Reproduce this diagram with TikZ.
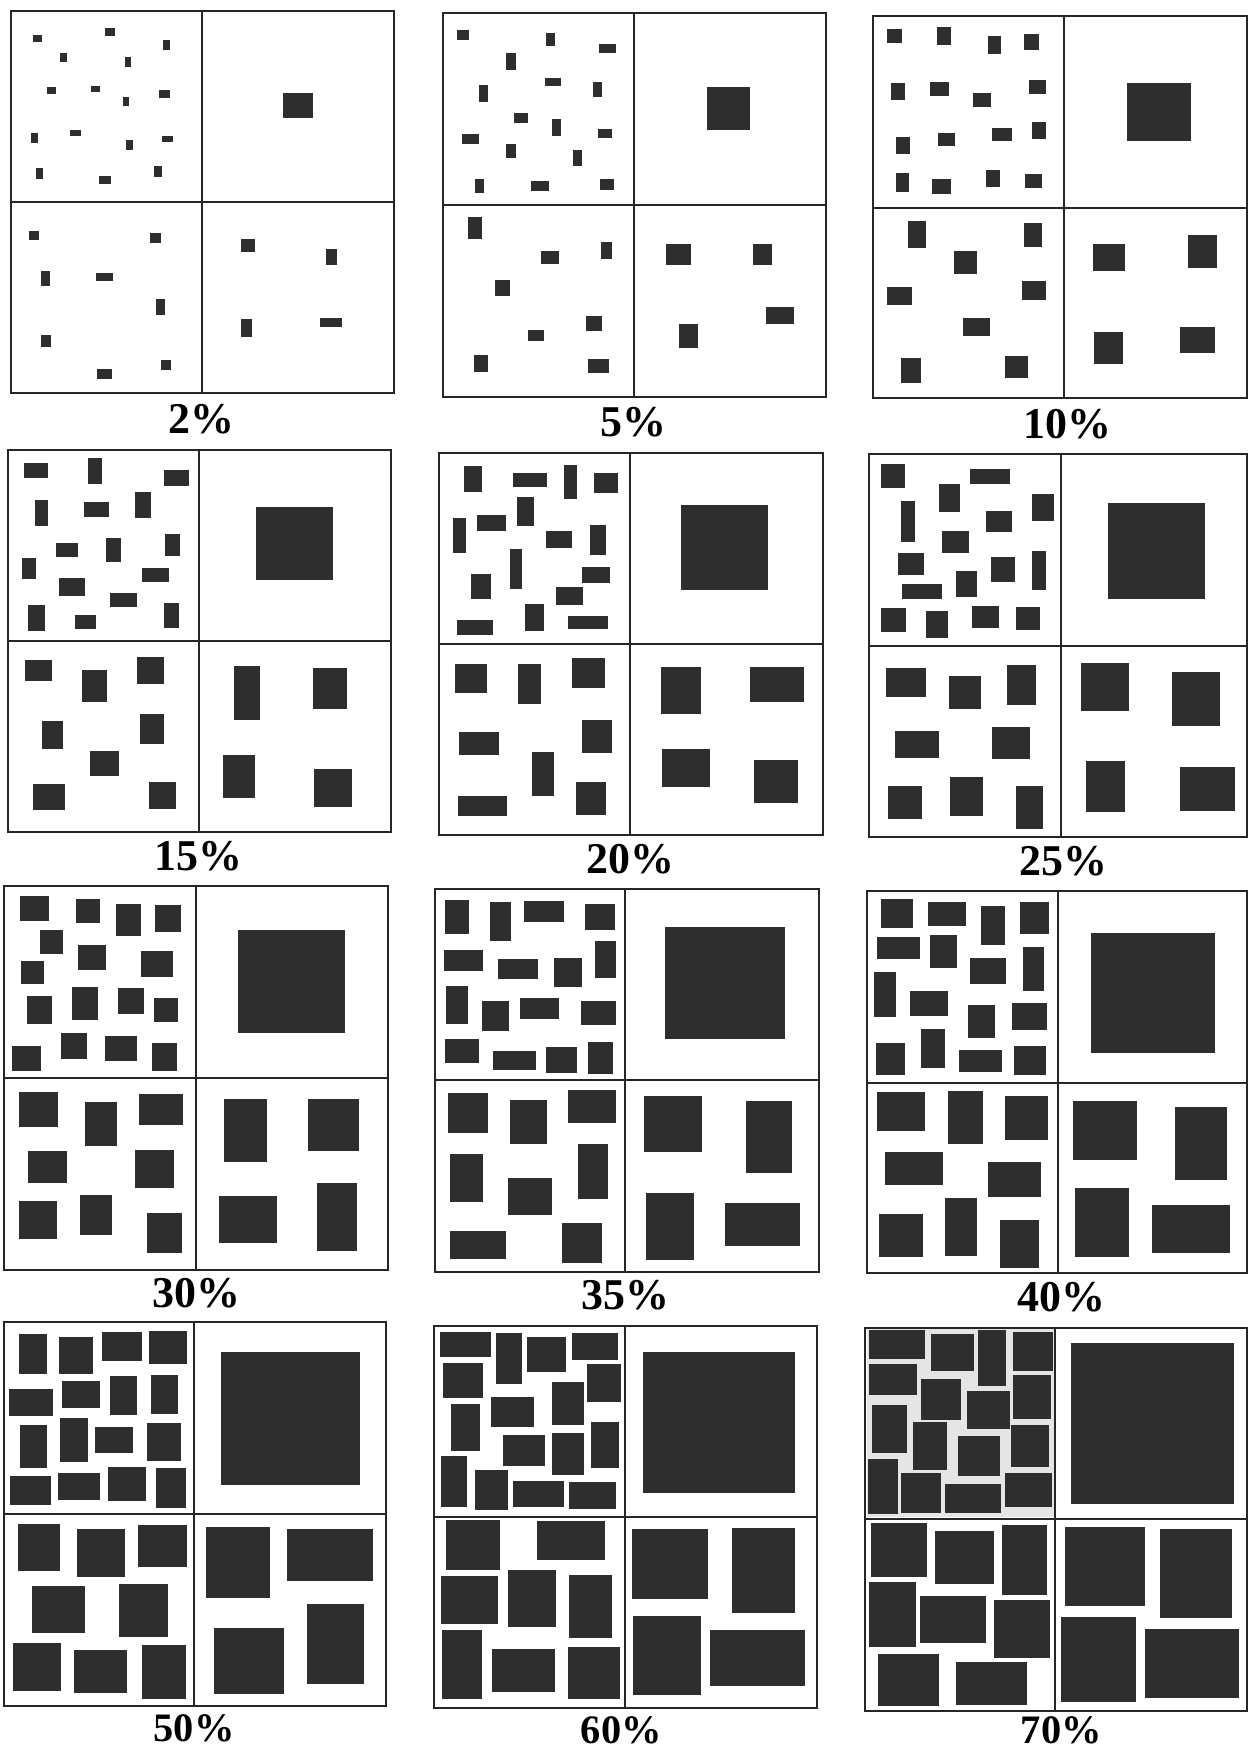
\documentclass[tikz,border=0pt]{standalone}
\usepackage{fontspec}
\setmainfont{Liberation Serif}
\begin{document}
\begin{tikzpicture}[
    x=0.1mm,
    y=-0.1mm,
    frame/.style={
        draw=black!85,
        line width=0.55pt
    },
    grain/.style={
        fill=black!82
    },
    pct/.style={
        font=\fontsize{12.5}{15}\selectfont\bfseries,
        inner sep=0pt
    },
    pctlow/.style={
        pct,
        font=\fontsize{11.5}{14}\selectfont\bfseries
    },
    zoomed/.style={
        x=0.033333mm,
        y=-0.033333mm
    }
]
    \useasboundingbox (0,0) rectangle (1248,1750);
    \fill[white] (0,0) rectangle (1248,1750);

    % row 1
    \begin{scope}[shift={(4,4)}, zoomed]
        \draw[frame] (20,21) rectangle (1170,1168)
            (593,21) -- (593,1168) (20,595) -- (1170,595);
        \foreach \a/\b/\c/\d in {88/93/115/113, 304/73/332/97, 476/107/497/137,
            169/147/188/173, 362/158/381/189, 128/249/155/270, 262/246/289/265,
            356/280/376/305, 465/257/497/283, 81/388/103/418, 199/379/231/397,
            366/408/386/438, 473/396/507/414, 97/492/117/524, 286/517/321/541,
            449/486/473/518, 838/266/926/342,
            75/681/106/709, 439/688/471/717, 110/802/139/845, 277/808/327/832,
            456/885/482/934, 110/993/141/1029, 279/1094/325/1126, 470/1067/501/1097,
            710/704/753/743, 966/734/999/783, 710/945/743/1000, 947/943/1013/970}
            \fill[grain] (\a,\b) rectangle (\c,\d);
        \node[pct] (lab2) at (593,1245) {2\%};
    \end{scope}

    \begin{scope}[shift={(436,6)}, zoomed]
        \draw[frame] (20,22) rectangle (1170,1172)
            (593,22) -- (593,1172) (20,598) -- (1170,598);
        \foreach \a/\b/\c/\d in {62/73/100/102, 330/80/357/120, 489/113/541/140,
            211/142/239/191, 328/215/374/241, 128/238/155/287, 470/229/497/272,
            235/322/277/351, 348/340/375/389, 79/383/129/413, 486/368/529/395,
            211/414/239/456, 412/432/439/481, 116/519/143/562, 285/526/339/555,
            493/519/535/551, 813/242/943/372,
            96/633/138/699, 316/734/368/774, 494/709/527/760, 178/822/222/869,
            449/931/497/974, 276/972/323/1006, 115/1046/155/1097, 455/1059/518/1100,
            691/713/765/778, 950/715/1007/778, 991/903/1073/954, 728/955/787/1027}
            \fill[grain] (\a,\b) rectangle (\c,\d);
        \node[pct] (lab5) at (593,1249) {5\%};
    \end{scope}

    \begin{scope}[shift={(866,8)}, zoomed]
        \draw[frame] (20,24) rectangle (1143,1170)
            (593,24) -- (593,1170) (20,600) -- (1143,600);
        \foreach \a/\b/\c/\d in {62/62/109/106, 213/58/255/110, 365/83/406/139,
            473/78/518/127, 74/225/116/276, 193/223/250/263, 322/256/375/298,
            488/215/541/258, 89/388/131/437, 216/374/267/414, 378/360/437/400,
            497/342/539/394, 89/494/129/551, 199/514/254/557, 360/486/403/538,
            476/497/529/539, 784/226/976/400,
            127/640/179/720, 474/646/528/718, 265/728/334/798, 64/836/139/890,
            467/818/539/877, 292/930/372/985, 106/1050/166/1124, 417/1043/486/1111,
            680/708/777/790, 965/680/1053/779, 684/972/771/1068, 942/956/1047/1036}
            \fill[grain] (\a,\b) rectangle (\c,\d);
        \node[pct] (lab10) at (605,1248) {10\%};
    \end{scope}

    % row 2
    \begin{scope}[shift={(2,444)}, zoomed]
        \draw[frame] (18,17) rectangle (1168,1165)
            (590,17) -- (590,1165) (18,592) -- (1168,592);
        \foreach \a/\b/\c/\d in {66/56/139/101, 257/43/299/120, 485/77/562/126,
            98/168/139/247, 246/175/320/220, 398/145/447/222, 163/298/228/340,
            313/283/358/355, 489/269/533/335, 60/341/103/405, 171/403/249/455,
            420/372/500/415, 324/447/405/490, 79/483/129/561, 219/512/283/554,
            486/478/531/551, 761/190/992/409,
            70/647/151/711, 240/677/316/774, 404/639/487/719, 121/831/184/914,
            413/809/486/899, 263/921/350/996, 94/1019/190/1097, 441/1014/523/1095,
            696/666/775/829, 932/673/1036/795, 664/932/760/1063, 937/975/1050/1090}
            \fill[grain] (\a,\b) rectangle (\c,\d);
        \node[pct] (lab15) at (590,1237) {15\%};
    \end{scope}

    \begin{scope}[shift={(432,446)}, zoomed]
        \draw[frame] (20,20) rectangle (1172,1168)
            (594,20) -- (594,1168) (20,595) -- (1172,595);
        \foreach \a/\b/\c/\d in {96/59/150/139, 242/82/346/124, 395/56/435/160,
            486/82/559/141, 256/152/306/241, 62/216/103/322, 135/208/221/256,
            342/254/420/306, 474/237/522/326, 234/309/271/429, 116/385/176/460,
            450/362/535/411, 372/422/452/476, 280/474/335/555, 75/523/183/567,
            407/511/527/548, 747/177/1008/433,
            69/654/166/741, 258/654/328/775, 421/637/518/727, 80/857/200/928,
            451/822/541/920, 300/917/366/1050, 78/1050/224/1111, 431/1008/521/1106,
            688/662/808/805, 955/662/1115/767, 691/908/835/1023, 967/942/1097/1072}
            \fill[grain] (\a,\b) rectangle (\c,\d);
        \node[pct] (lab20) at (594,1238) {20\%};
    \end{scope}

    \begin{scope}[shift={(862,450)}, zoomed]
        \draw[frame] (22,13) rectangle (1155,1162)
            (597,13) -- (597,1162) (22,588) -- (1155,588);
        \foreach \a/\b/\c/\d in {58/43/130/114, 325/57/444/102, 230/102/294/185,
            510/133/577/214, 117/154/160/275, 372/183/451/247, 239/243/320/310,
            107/310/187/375, 387/322/460/395, 281/362/344/440, 509/303/552/421,
            119/403/239/448, 58/474/131/547, 192/482/258/563, 330/469/412/534,
            462/470/534/541, 739/158/1029/447,
            71/654/193/740, 262/678/358/778, 436/645/522/765, 100/843/230/924,
            389/831/505/927, 78/1008/180/1107, 265/982/362/1097, 463/1007/544/1138,
            656/640/802/784, 931/666/1075/828, 672/933/790/1087, 954/951/1118/1082}
            \fill[grain] (\a,\b) rectangle (\c,\d);
        \node[pct] (lab25) at (603,1233) {25\%};
    \end{scope}

    % row 3
    \begin{scope}[shift={(0,882)}, zoomed]
        \draw[frame] (13,12) rectangle (1165,1163)
            (588,12) -- (588,1163) (13,588) -- (1165,588);
        \foreach \a/\b/\c/\d in {60/43/148/116, 228/51/300/124, 347/67/424/163,
            466/70/543/151, 121/145/190/215, 235/188/317/265, 424/206/519/285,
            63/237/133/307, 81/342/155/426, 217/316/295/413, 354/317/433/395,
            461/348/535/420, 36/493/124/566, 183/453/260/532, 315/461/411/537,
            457/484/531/567, 714/143/1034/453,
            56/630/173/734, 256/660/351/791, 417/636/549/729, 84/806/201/903,
            404/805/523/918, 57/957/171/1072, 239/939/335/1059, 440/992/545/1113,
            672/651/802/840, 923/652/1076/808, 658/941/831/1084, 951/902/1070/1108}
            \fill[grain] (\a,\b) rectangle (\c,\d);
        \node[pct] (lab30) at (588,1233) {30\%};
    \end{scope}

    \begin{scope}[shift={(430,884)}, zoomed]
        \draw[frame] (15,16) rectangle (1167,1163)
            (586,16) -- (586,1163) (15,588) -- (1167,588);
        \foreach \a/\b/\c/\d in {46/49/117/149, 180/53/242/172, 283/52/402/113,
            466/61/554/139, 42/197/158/260, 203/226/324/286, 373/221/455/309,
            495/171/559/283, 49/307/113/420, 155/350/236/441, 271/341/387/406,
            454/350/557/423, 46/465/147/538, 188/500/319/557, 348/488/440/568,
            473/474/548/570, 704/130/1064/466,
            53/627/175/746, 240/648/352/779, 415/618/558/718, 60/809/160/953,
            235/882/365/994, 445/779/533/945, 60/1040/229/1125, 397/1017/517/1138,
            641/637/817/805, 949/652/1086/868, 648/927/792/1128, 884/957/1110/1085}
            \fill[grain] (\a,\b) rectangle (\c,\d);
        \node[pct] (lab35) at (586,1233) {35\%};
    \end{scope}

    \begin{scope}[shift={(860,884)}, zoomed]
        \draw[frame] (20,22) rectangle (1161,1168)
            (594,22) -- (594,1168) (20,598) -- (1161,598);
        \foreach \a/\b/\c/\d in {64/45/160/131, 203/53/319/126, 363/66/436/182,
            480/53/566/150, 51/160/180/225, 211/153/290/252, 331/221/438/300,
            488/190/551/320, 43/265/109/398, 150/322/263/395, 323/362/404/462,
            456/358/562/438, 48/477/135/572, 183/436/256/551, 297/497/426/563,
            462/487/559/572, 694/147/1066/506,
            50/624/195/740, 265/622/369/781, 435/637/563/768, 76/803/250/902,
            384/833/543/940, 57/990/188/1120, 254/942/350/1116, 420/1007/537/1153,
            639/651/832/827, 946/669/1101/887, 646/912/808/1120, 877/962/1110/1107}
            \fill[grain] (\a,\b) rectangle (\c,\d);
        \node[pct] (lab40) at (604,1240) {40\%};
    \end{scope}

    % row 4
    \begin{scope}[shift={(0,1318)}, zoomed]
        \draw[frame] (13,13) rectangle (1157,1163)
            (582,13) -- (582,1163) (13,588) -- (1157,588);
        \foreach \a/\b/\c/\d in {58/47/141/168, 178/58/280/169, 306/42/426/128,
            446/38/562/138, 27/214/158/294, 186/188/301/269, 329/175/410/291,
            453/172/535/287, 61/322/141/450, 181/300/264/432, 285/327/400/406,
            440/316/544/428, 31/475/152/562, 174/464/301/546, 323/447/438/549,
            469/449/557/571, 664/102/1079/501,
            53/617/180/760, 231/633/376/777, 415/620/561/747, 97/804/255/945,
            356/797/503/958, 38/976/182/1119, 223/995/382/1126, 426/981/557/1143,
            619/627/811/841, 862/632/1120/790, 643/929/851/1128, 920/858/1092/1097}
            \fill[grain] (\a,\b) rectangle (\c,\d);
        \node[pctlow] (lab50) at (582,1232) {50\%};
    \end{scope}

    \begin{scope}[shift={(428,1320)}, zoomed]
        \draw[frame] (17,17) rectangle (1168,1165)
            (590,17) -- (590,1165) (17,592) -- (1168,592);
        \foreach \a/\b/\c/\d in {35/35/190/111, 204/40/282/192, 298/52/415/156,
            431/40/571/121, 45/130/164/233, 478/131/580/246, 371/186/467/316,
            190/230/318/322, 69/252/157/394, 489/305/572/445, 225/346/351/437,
            372/339/468/466, 38/407/117/560, 140/451/241/570, 256/482/409/562,
            424/486/564/568, 645/95/1102/520,
            55/600/215/750, 327/604/530/720, 38/768/210/911, 239/750/383/920,
            424/765/552/955, 43/930/163/1137, 191/987/380/1116, 419/980/575/1138,
            612/626/839/837, 911/625/1102/880, 615/887/819/1125, 845/929/1131/1099}
            \fill[grain] (\a,\b) rectangle (\c,\d);
        \node[pctlow] (lab60) at (580,1230) {60\%};
    \end{scope}

    \begin{scope}[shift={(858,1322)}, zoomed]
        \fill[black!10] (26,22) rectangle (588,586);
        \draw[frame] (20,18) rectangle (1166,1168)
            (590,18) -- (590,1168) (20,592) -- (1166,592);
        \foreach \a/\b/\c/\d in {33/25/200/110, 218/37/349/148, 359/25/444/193,
            464/31/585/148, 33/125/177/220, 188/170/310/293, 326/208/456/321,
            466/160/580/290, 43/250/146/393, 166/300/268/443, 301/342/425/462,
            458/309/573/435, 30/410/121/577, 130/452/250/572, 260/486/429/572,
            440/452/582/554, 640/64/1127/545,
            38/602/206/766, 231/627/409/786, 433/608/568/820, 33/779/174/974,
            187/822/385/963, 407/835/575/1007, 60/995/243/1153, 295/1020/508/1150,
            621/614/862/853, 906/622/1123/887, 608/884/833/1140, 861/922/1143/1128}
            \fill[grain] (\a,\b) rectangle (\c,\d);
        \node[pctlow] (lab70) at (610,1226) {70\%};
    \end{scope}
\end{tikzpicture}
\end{document}
